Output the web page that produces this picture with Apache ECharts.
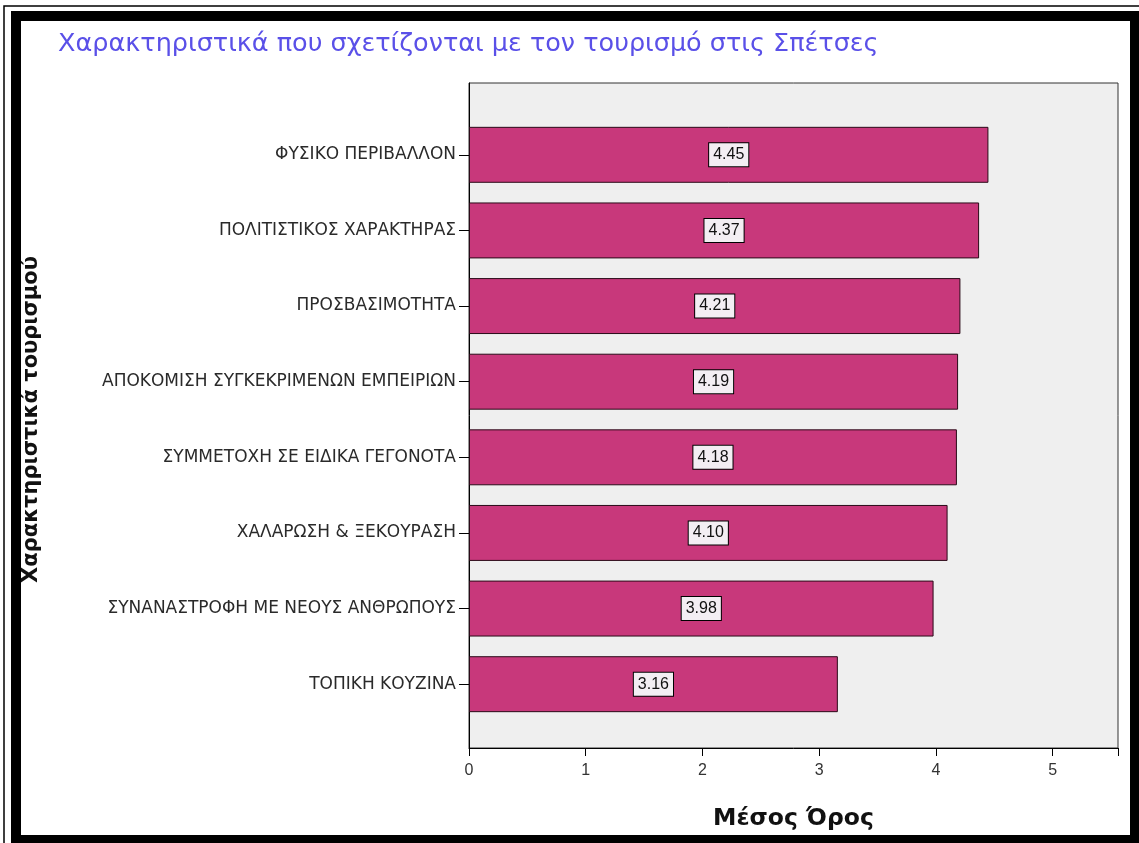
<!DOCTYPE html>
<html>
<head>
<meta charset="utf-8">
<script src="https://cdn.jsdelivr.net/npm/echarts@6/dist/echarts.min.js"></script>
<style>
html,body{margin:0;padding:0;background:#fff;}
#c{width:1139px;height:843px;}
</style>
</head>
<body>
<div id="c"></div>
<script>
const categories = [
  'ΦΥΣΙΚΟ ΠΕΡΙΒΑΛΛΟΝ',
  'ΠΟΛΙΤΙΣΤΙΚΟΣ ΧΑΡΑΚΤΗΡΑΣ',
  'ΠΡΟΣΒΑΣΙΜΟΤΗΤΑ',
  'ΑΠΟΚΟΜΙΣΗ ΣΥΓΚΕΚΡΙΜΕΝΩΝ ΕΜΠΕΙΡΙΩΝ',
  'ΣΥΜΜΕΤΟΧΗ ΣΕ ΕΙΔΙΚΑ ΓΕΓΟΝΟΤΑ',
  'ΧΑΛΑΡΩΣΗ & ΞΕΚΟΥΡΑΣΗ',
  'ΣΥΝΑΝΑΣΤΡΟΦΗ ΜΕ ΝΕΟΥΣ ΑΝΘΡΩΠΟΥΣ',
  'ΤΟΠΙΚΗ ΚΟΥΖΙΝΑ'
];
const meanValues = [4.45, 4.37, 4.21, 4.19, 4.18, 4.10, 3.98, 3.16];
const xTickLabels = ['0', '1', '2', '3', '4', '5'];
const titleText = 'Χαρακτηριστικά που σχετίζονται με τον τουρισμό στις Σπέτσες';
const xAxisName = 'Μέσος Όρος';
const yAxisName = 'Χαρακτηριστικά τουρισμού';

const FONT = "'Liberation Sans', Arial, sans-serif";
const WIDE = "'DejaVu Sans', Verdana, sans-serif";
const XMAX = 5.56;

const chart = echarts.init(document.getElementById('c'));
chart.setOption({
  backgroundColor: '#ffffff',
  animation: false,
  textStyle: { fontFamily: FONT },
  title: {
    text: titleText,
    left: 53, top: 26,
    textStyle: { fontFamily: WIDE, fontSize: 25.5, fontWeight: 'normal', color: '#5a50e8' }
  },
  graphic: [
    { type: 'rect', z: 100, silent: true,
      shape: { x: 4, y: 6, width: 1300, height: 1000 },
      style: { fill: null, stroke: '#000', lineWidth: 1.5 } },
    { type: 'rect', z: 100, silent: true,
      shape: { x: 16, y: 16, width: 1119, height: 824 },
      style: { fill: null, stroke: '#000', lineWidth: 10 } }
  ],
  grid: [
    { left: 469, top: 83, width: 649, height: 665, show: true,
      backgroundColor: '#efefef', borderColor: '#333', borderWidth: 1 },
    { left: 469, top: 117, width: 649, height: 605 }
  ],
  xAxis: [
    { gridIndex: 0, type: 'value', min: 0, max: XMAX, interval: 1,
      axisLine: { show: true, lineStyle: { color: '#000', width: 1 } },
      axisTick: { show: true, length: 8, lineStyle: { color: '#000' } },
      splitLine: { show: false },
      axisLabel: { fontSize: 16, color: '#333', margin: 15, fontFamily: FONT,
        formatter: v => xTickLabels.includes(String(v)) ? String(v) : '' },
      name: xAxisName, nameLocation: 'middle', nameGap: 59,
      nameTextStyle: { fontSize: 23.5, fontWeight: 'bold', color: '#111', fontFamily: WIDE } },
    { gridIndex: 1, type: 'value', min: 0, max: XMAX, show: false }
  ],
  yAxis: [
    { gridIndex: 0, type: 'value', min: 0, max: 1,
      axisLine: { show: true, lineStyle: { color: '#000', width: 1 } },
      axisTick: { show: false }, axisLabel: { show: false }, splitLine: { show: false } },
    { gridIndex: 1, type: 'category', inverse: true, data: categories,
      axisLine: { show: false },
      axisTick: { show: true, alignWithLabel: true, length: 10, lineStyle: { color: '#000' } },
      axisLabel: { fontSize: 17, color: '#2a2a2a', margin: 13, fontFamily: WIDE },
      name: yAxisName, nameLocation: 'middle', nameGap: 427,
      nameTextStyle: { fontSize: 21, fontWeight: 'bold', color: '#111', fontFamily: WIDE } }
  ],
  series: [{
    type: 'bar', xAxisIndex: 1, yAxisIndex: 1,
    data: meanValues,
    barWidth: '74%',
    itemStyle: { color: '#c8387b', borderColor: '#2a0a18', borderWidth: 1 },
    label: {
      show: true, position: 'inside',
      formatter: p => p.value.toFixed(2),
      fontSize: 16, color: '#111', fontFamily: FONT,
      backgroundColor: '#f3eef3', borderColor: '#000', borderWidth: 1,
      padding: [4, 4, 3, 4]
    }
  }]
});
</script>
</body>
</html>
